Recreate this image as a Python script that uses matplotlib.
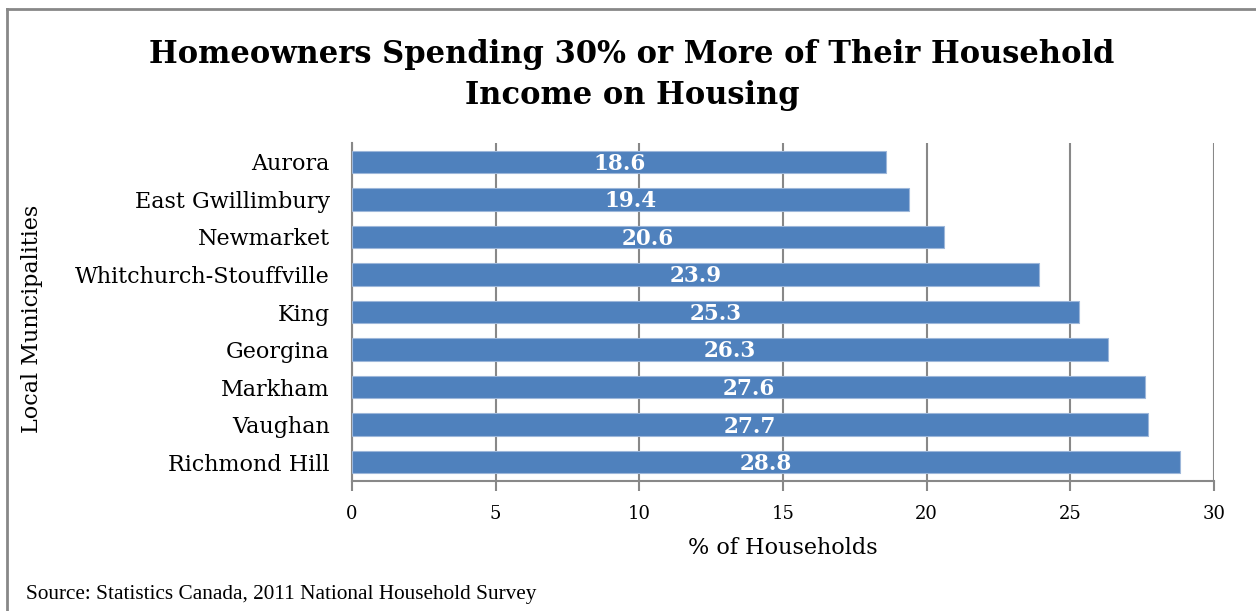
import matplotlib.pyplot as plt
from matplotlib.lines import Line2D

# Data (top to bottom)
municipalities = ["Aurora", "East Gwillimbury", "Newmarket", "Whitchurch-Stouffville",
                  "King", "Georgina", "Markham", "Vaughan", "Richmond Hill"]
pct_households = [18.6, 19.4, 20.6, 23.9, 25.3, 26.3, 27.6, 27.7, 28.8]
x_ticks = [0, 5, 10, 15, 20, 25, 30]

bar_color = "#4F81BD"
grid_color = "#888888"
serif = ["DejaVu Serif"]

fig = plt.figure(figsize=(12.56, 6.11), dpi=100)
W, H = 1256, 611
ax = fig.add_axes([352 / W, 1 - 481 / H, (1214 - 352) / W, (481 - 143) / H])

ypos = list(range(len(municipalities)))
ax.barh(ypos, pct_households, height=0.6, color=bar_color, edgecolor="#9DB7DA",
        linewidth=0.8, zorder=3)

for y, v in zip(ypos, pct_households):
    ax.text(v / 2, y + 0.05, f"{v}", ha="center", va="center", color="white",
            fontsize=15.5, fontweight="bold", family=serif, zorder=4)

ax.set_ylim(len(municipalities) - 0.5, -0.5)
ax.set_xlim(0, 30)
ax.set_yticks(ypos)
ax.set_yticklabels(municipalities, family=serif, fontsize=16)
ax.set_xticks(x_ticks)
ax.set_xticklabels([str(t) for t in x_ticks], family=serif, fontsize=13)

ax.tick_params(axis="y", length=0, pad=16)
ax.tick_params(axis="x", length=7, width=1.5, color=grid_color, pad=10, direction="out")
ax.grid(axis="x", color=grid_color, linewidth=1.5, zorder=0)

for side in ["top", "right"]:
    ax.spines[side].set_visible(False)
for side in ["left", "bottom"]:
    ax.spines[side].set_color(grid_color)
    ax.spines[side].set_linewidth(1.5)

ax.set_xlabel("% of Households", family=serif, fontsize=16, labelpad=10)
ax.set_ylabel("Local Municipalities", family=serif, fontsize=16, va="center")
ax.yaxis.set_label_coords(-(352 - 32) / (1214 - 352), 0.48)

fig.text(632 / W, 1 - 75 / H, "Homeowners Spending 30% or More of Their Household\nIncome on Housing",
         ha="center", va="center", fontsize=22, fontweight="bold", family=serif,
         linespacing=1.45)

fig.text(26 / W, 1 - 595 / H, "Source: Statistics Canada, 2011 National Household Survey",
         ha="left", va="center", fontsize=15.3, family=["Liberation Serif"])

# outer chart frame (left and top edges visible)
fig.add_artist(Line2D([7 / W, 7 / W], [0, 1 - 9 / H], transform=fig.transFigure,
                      color=grid_color, linewidth=2))
fig.add_artist(Line2D([7 / W, 1], [1 - 9 / H, 1 - 9 / H], transform=fig.transFigure,
                      color=grid_color, linewidth=2))

fig.savefig("out.png", dpi=100)
